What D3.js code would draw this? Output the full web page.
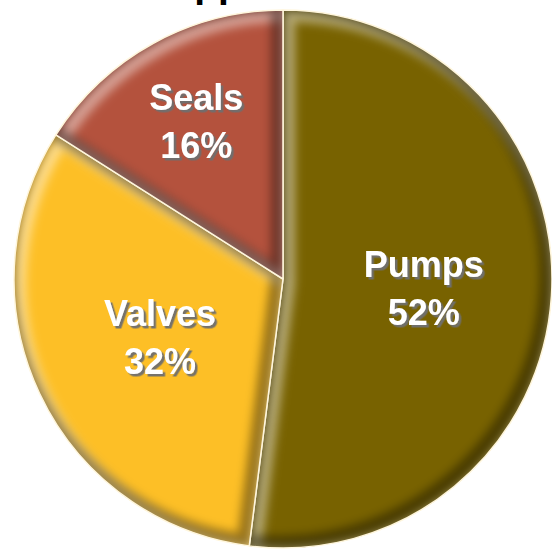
<!DOCTYPE html>
<html>
<head>
<meta charset="utf-8">
<script src="https://cdn.jsdelivr.net/npm/d3@7"></script>
<style>
  html, body { margin: 0; padding: 0; background: #fff; }
  svg { display: block; }
</style>
</head>
<body>
<div id="chart"></div>
<script>
// data
var categories = ["Pumps", "Valves", "Seals"];
var shares = [52, 32, 16];
var chartTitle = "Applications";

// svg area
var svgWidth = 552;
var svgHeight = 549;

// pie geometry
var center = { x: 283, y: 279 };
var radius = 269;

// slice fills and how far out each label sits
var sliceColors = { Pumps: "#786200", Valves: "#fdbf26", Seals: "#b4523d" };
var labelRadius = { Pumps: 141, Valves: 136, Seals: 180 };

var svg = d3.select("#chart")
    .append("svg")
    .attr("width", svgWidth)
    .attr("height", svgHeight);

var defs = svg.append("defs");

defs.append("filter")
    .attr("id", "soft")
    .attr("x", "-20%").attr("y", "-20%")
    .attr("width", "140%").attr("height", "140%")
    .append("feGaussianBlur")
    .attr("stdDeviation", 5);

var shadow = defs.append("filter")
    .attr("id", "textShadow")
    .attr("x", "-20%").attr("y", "-20%")
    .attr("width", "140%").attr("height", "140%");
shadow.append("feDropShadow")
    .attr("dx", 2.5).attr("dy", 2.5)
    .attr("stdDeviation", 0.6)
    .attr("flood-color", "#6e6e6e")
    .attr("flood-opacity", 0.95);

var data = categories.map(function(c, i) {
    return { label: c, value: shares[i] };
});

var pie = d3.pie()
    .sort(null)
    .value(d => d.value);

var arc = d3.arc()
    .innerRadius(0)
    .outerRadius(radius);

var arcs = pie(data);

var pieGroup = svg.append("g")
    .attr("transform", `translate(${center.x}, ${center.y})`);

// clip paths so the bevel stays inside each slice
defs.selectAll("clipPath")
    .data(arcs)
    .enter()
    .append("clipPath")
    .attr("id", (d, i) => "clip" + i)
    .append("path")
    .attr("transform", `translate(${center.x}, ${center.y})`)
    .attr("d", arc);

var slices = pieGroup.selectAll("g.slice")
    .data(arcs)
    .enter()
    .append("g")
    .attr("class", "slice");

slices.append("path")
    .attr("d", arc)
    .attr("fill", d => sliceColors[d.data.label]);

// raised bevel: light on the upper-left edges, dark on the lower-right
var bevel = slices.append("g")
    .attr("transform", `translate(${-center.x}, ${-center.y})`)
    .attr("clip-path", (d, i) => `url(#clip${i})`)
    .append("g")
    .attr("transform", `translate(${center.x}, ${center.y})`);

bevel.append("path")
    .attr("d", arc)
    .attr("transform", "translate(5, 5)")
    .attr("fill", "none")
    .attr("stroke", "#ffffff")
    .attr("stroke-opacity", 0.45)
    .attr("stroke-width", 14)
    .attr("filter", "url(#soft)");

bevel.append("path")
    .attr("d", arc)
    .attr("transform", "translate(-5, -5)")
    .attr("fill", "none")
    .attr("stroke", "#000000")
    .attr("stroke-opacity", 0.4)
    .attr("stroke-width", 14)
    .attr("filter", "url(#soft)");

// thin light seams between slices
slices.append("path")
    .attr("d", arc)
    .attr("fill", "none")
    .attr("stroke", "#fff6dc")
    .attr("stroke-width", 1.5)
    .attr("stroke-linejoin", "round");

// labels
var labels = pieGroup.selectAll("text.label")
    .data(arcs)
    .enter()
    .append("text")
    .attr("class", "label")
    .attr("transform", function(d) {
        var mid = (d.startAngle + d.endAngle) / 2;
        var r = labelRadius[d.data.label];
        return `translate(${r * Math.sin(mid)}, ${-r * Math.cos(mid)})`;
    })
    .attr("text-anchor", "middle")
    .attr("font-family", "Liberation Sans, Arial, sans-serif")
    .attr("font-weight", "bold")
    .attr("font-size", 36)
    .attr("fill", "#ffffff")
    .attr("filter", "url(#textShadow)");

labels.append("tspan")
    .attr("x", 0)
    .attr("y", -11)
    .text(d => d.data.label);

labels.append("tspan")
    .attr("x", 0)
    .attr("y", 37)
    .text(d => d.data.value + "%");

// title, mostly above the visible area
svg.append("text")
    .attr("x", center.x)
    .attr("y", -3)
    .attr("text-anchor", "middle")
    .attr("font-family", "Liberation Sans, Arial, sans-serif")
    .attr("font-weight", "bold")
    .attr("font-size", 39)
    .attr("fill", "#000000")
    .text(chartTitle);
</script>
</body>
</html>
